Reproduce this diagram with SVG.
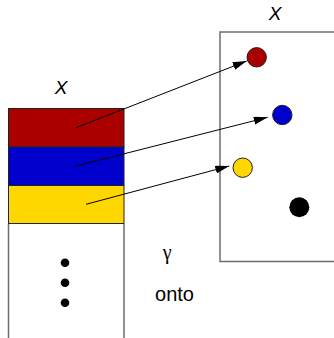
<svg xmlns="http://www.w3.org/2000/svg" width="334" height="338" viewBox="0 0 334 338">
<defs>
<style>
.band{stroke:#222;stroke-width:1}
.side{stroke:#6e6e6e;stroke-width:1.5;fill:none}
.dot{stroke:#222;stroke-width:1}
.arr{stroke:#000;stroke-width:1;fill:none;marker-end:url(#ah)}
.lbl{font-family:"Liberation Sans",Arial,sans-serif;fill:#000}
</style>
<marker id="ah" viewBox="0 0 14 8" refX="14" refY="4" markerWidth="14" markerHeight="8" markerUnits="userSpaceOnUse" orient="auto">
<path d="M0,0 L14,4 L0,8 z" fill="#000"/>
</marker>
</defs>
<rect width="334" height="338" fill="#fff"/>
<g id="domain">
<line class="side" x1="8.5" y1="224" x2="8.5" y2="338"/>
<line class="side" x1="124" y1="224" x2="124" y2="338"/>
<rect class="band" x="8.5" y="108.5" width="115.5" height="38.5" fill="#aa0000"/>
<rect class="band" x="8.5" y="147" width="115.5" height="38.5" fill="#0000cc"/>
<rect class="band" x="8.5" y="185.5" width="115.5" height="38" fill="#ffd700"/>
<text class="lbl" x="61" y="94" font-size="19" font-style="italic" text-anchor="middle">X</text>
<circle cx="65" cy="262.7" r="4.3" fill="#000"/>
<circle cx="65" cy="282.7" r="4.3" fill="#000"/>
<circle cx="65" cy="302.7" r="4.3" fill="#000"/>
</g>
<g id="codomain">
<rect class="side" x="220" y="32" width="130" height="229.5"/>
<text class="lbl" x="275" y="20" font-size="19" font-style="italic" text-anchor="middle">X</text>
<circle class="dot" cx="256.7" cy="57.3" r="9.7" fill="#aa0000"/>
<circle class="dot" cx="282.3" cy="115" r="9.7" fill="#0000cc"/>
<circle class="dot" cx="242.7" cy="167.7" r="9.7" fill="#ffd700"/>
<circle cx="299.3" cy="207.3" r="10" fill="#000"/>
</g>
<g id="label">
<text x="167.2" y="258.5" font-size="20" text-anchor="middle" font-family="'Liberation Serif','DejaVu Serif',serif" fill="#000">γ</text>
<text class="lbl" x="174.5" y="301" font-size="20" text-anchor="middle">onto</text>
</g>
<g id="connectors">
<line class="arr" x1="76" y1="127.7" x2="246.7" y2="61"/>
<line class="arr" x1="76" y1="166" x2="267.7" y2="117.3"/>
<line class="arr" x1="86" y1="204.3" x2="229.3" y2="166"/>
</g>
</svg>
